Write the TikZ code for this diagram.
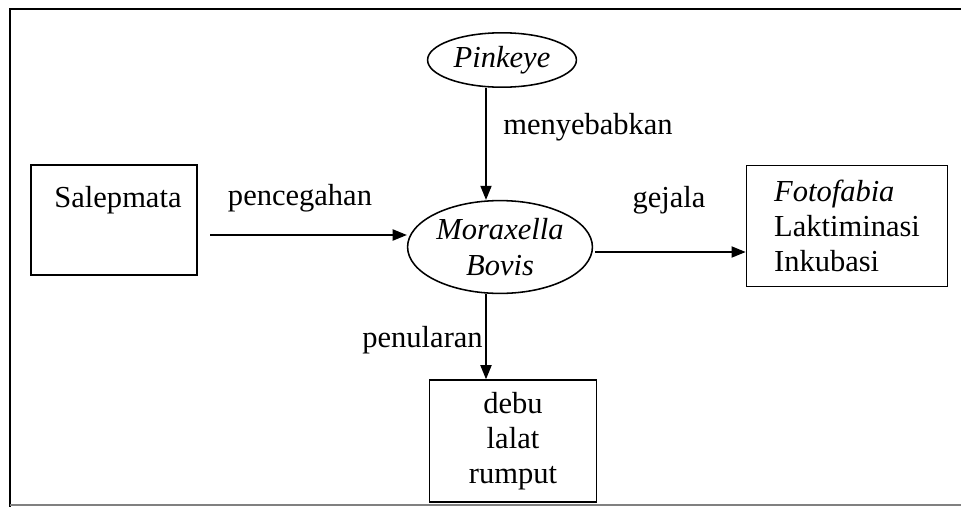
\documentclass[tikz,border=0pt]{standalone}
\usepackage{fontspec}
\setmainfont{Liberation Serif}
\usepackage{tikz}
\usetikzlibrary{
    arrows.meta,        % frecce moderne
    calc,               % calcoli con coordinate
    positioning,        % posizionamento dei nodi
    shapes.geometric    % ellissi
}

\newcommand{\ukuran}{\fontsize{21.7}{25}\selectfont}

\tikzset{
    elips/.style={draw, line width=1.1pt, ellipse, inner sep=0pt, align=center, font=\ukuran\itshape},
    kotak/.style={draw, line width=1.1pt, rectangle, align=center},
    panah/.style={-{Triangle[length=10pt, width=8pt]}, line width=0.8pt},
    teks/.style={inner sep=0pt}
}

\begin{document}
\begin{tikzpicture}[x=0.025cm, y=-0.025cm, font=\ukuran]

        \useasboundingbox (0,0) rectangle (961,507);

        % cornice
        \draw[line width=1.1pt] (961,9) -- (10,9) -- (10,507);
        \draw[gray, line width=0.8pt] (10,505) -- (961,505);

        % ellissi
        \node[elips, minimum width=3.72cm, minimum height=1.36cm] (pinkeye) at (502,60) {Pinkeye};
        \node[elips, minimum width=4.62cm, minimum height=2.32cm] (moraxella) at (500,247) {Moraxella\\Bovis};

        % rettangoli
        \node[kotak, minimum width=4.15cm, minimum height=2.75cm] (salep) at (114,220) {};
        \node[teks] (tsalep) at (118,200) {Salepmata};
        \node[kotak, align=left, minimum width=5.03cm, minimum height=3.03cm] (gejala) at (847,226) {\textit{Fotofabia}\\Laktiminasi\\Inkubasi};
        \node[kotak, minimum width=4.18cm, minimum height=3.05cm] (vektor) at (513,441) {debu\\lalat\\rumput};

        % frecce
        \coordinate (jalur) at (486,0);
        \coordinate (kiri) at (210,235);
        \coordinate (kanan) at (595,252);
        \draw[panah] (pinkeye.south -| jalur) -- (moraxella.north -| jalur);
        \draw[panah] (moraxella.south -| jalur) -- (vektor.north -| jalur);
        \draw[panah] (kiri) -- (kiri -| moraxella.west);
        \draw[panah] (kanan) -- (kanan -| gejala.west);

        % etichette
        \node[teks] (lmenyebabkan) at (588,127) {menyebabkan};
        \node[teks] (lpencegahan) at (300,198) {pencegahan};
        \node[teks] (lgejala) at (669,200) {gejala};
        \node[teks, anchor=east] (lpenularan) at (483,340) {penularan};

    \end{tikzpicture}
\end{document}
